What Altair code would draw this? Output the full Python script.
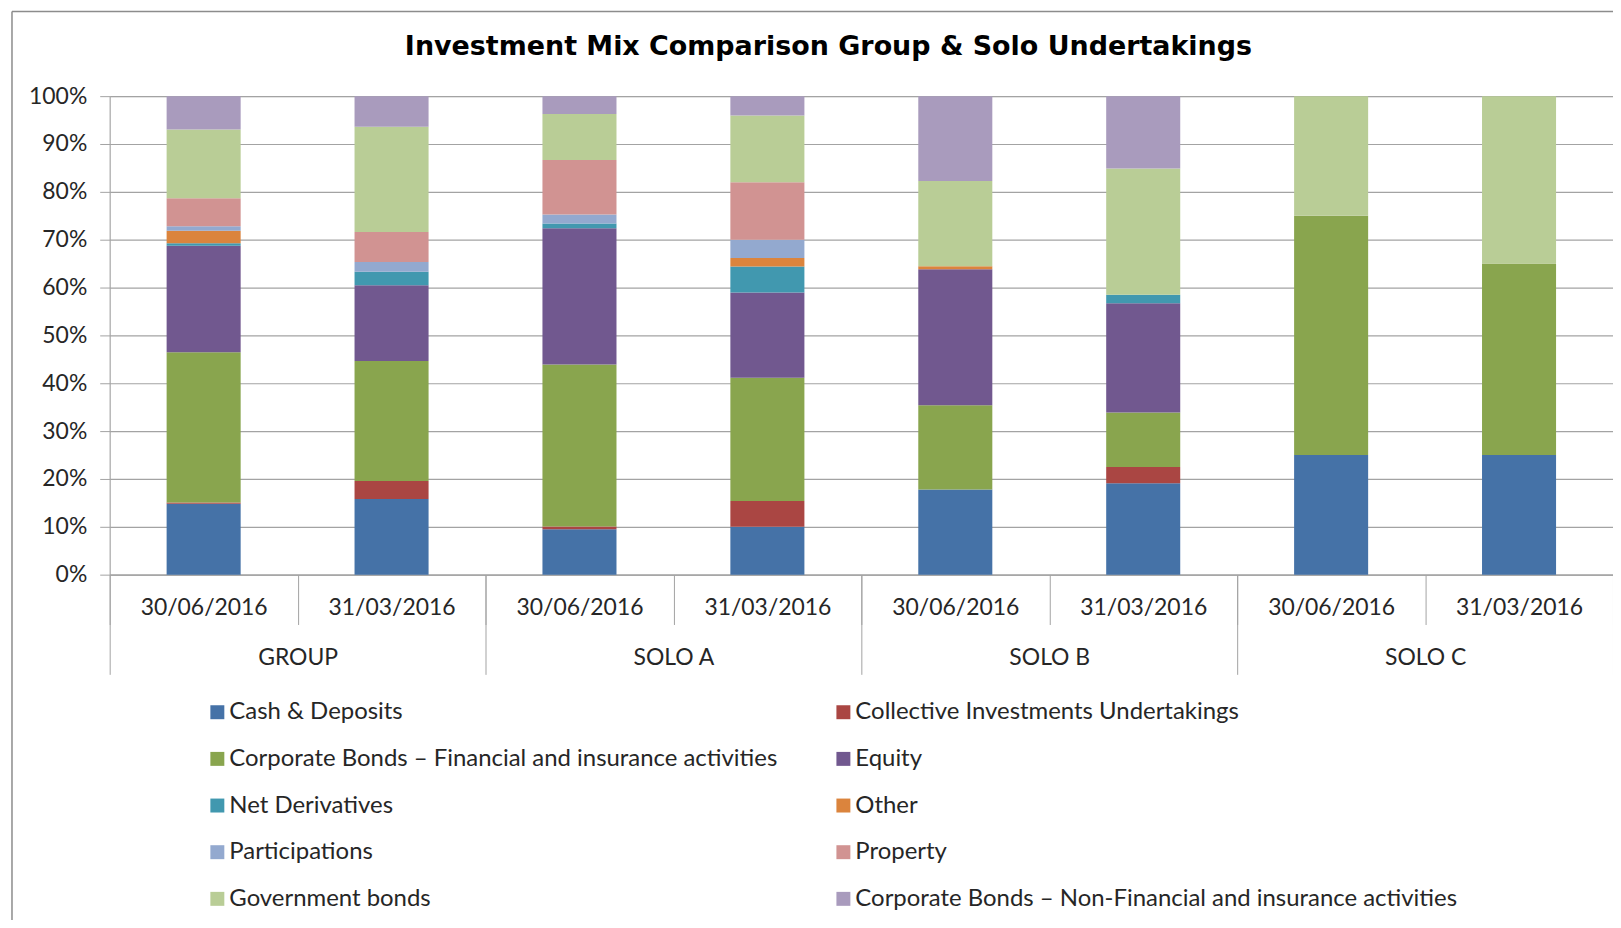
import altair as alt
import pandas as pd

categories = [
    "Cash & Deposits",
    "Collective Investments Undertakings",
    "Corporate Bonds – Financial and insurance activities",
    "Equity",
    "Net Derivatives",
    "Other",
    "Participations",
    "Property",
    "Government bonds",
    "Corporate Bonds – Non-Financial and insurance activities",
]
colors = ["#4572A7", "#AA4643", "#89A54E", "#71588F", "#4198AF",
          "#DB843D", "#93A9CF", "#D19392", "#B9CD96", "#A99BBD"]

groups = ["GROUP", "GROUP", "SOLO A", "SOLO A", "SOLO B", "SOLO B", "SOLO C", "SOLO C"]
dates = ["30/06/2016", "31/03/2016"] * 4

cash = [14.8, 15.8, 9.5, 10.0, 17.8, 19.1, 25.0, 25.0]
collective = [0.3, 3.75, 0.55, 5.4, 0.0, 3.4, 0.0, 0.0]
corp_fin = [31.4, 25.05, 33.9, 25.7, 17.6, 11.4, 50.0, 40.0]
equity = [22.25, 15.8, 28.5, 17.85, 28.4, 22.8, 0.0, 0.0]
net_deriv = [0.55, 2.85, 0.97, 5.4, 0.0, 1.8, 0.0, 0.0]
other = [2.6, 0.0, 0.0, 1.8, 0.6, 0.0, 0.0, 0.0]
participations = [0.95, 2.0, 1.9, 3.8, 0.0, 0.0, 0.0, 0.0]
property_ = [5.85, 6.3, 11.4, 12.0, 0.0, 0.0, 0.0, 0.0]
govt = [14.4, 21.95, 9.6, 13.95, 17.85, 26.4, 25.0, 35.0]
corp_nonfin = [6.95, 6.4, 3.75, 4.03, 17.7, 15.1, 0.0, 0.0]

series = [cash, collective, corp_fin, equity, net_deriv, other,
          participations, property_, govt, corp_nonfin]

bar_keys = [f"{g}|{d}" for g, d in zip(groups, dates)]
rows = []
for ci, (cat, vals) in enumerate(zip(categories, series)):
    for bi, v in enumerate(vals):
        rows.append({"category": cat, "ci": ci, "bar": bar_keys[bi], "value": v})
df = pd.DataFrame(rows)
group_df = pd.DataFrame({"group": list(dict.fromkeys(groups))})

FONT = "Lato"
GRAY = "#a3a3a3"
TXT = "#262626"

bars = alt.Chart(df).mark_bar(width=alt.RelativeBandSize(0.394)).encode(
    x=alt.X(
        "bar:N", sort=bar_keys,
        scale=alt.Scale(paddingInner=0, paddingOuter=0),
        axis=alt.Axis(
            title=None, orient="bottom", labelExpr="split(datum.label, '|')[1]",
            labelAngle=0, tickBand="extent", tickSize=50, tickColor=GRAY, tickWidth=1,
            domainColor=GRAY, domainWidth=1.2, labelPadding=-17, labelBaseline="middle",
            labelFont=FONT, labelFontSize=23, labelColor=TXT, grid=False,
        ),
    ),
    y=alt.Y(
        "value:Q", stack="normalize",
        scale=alt.Scale(domain=[0, 1]),
        axis=alt.Axis(
            title=None, format=".0%", values=[i / 10 for i in range(11)],
            tickSize=10, tickColor=GRAY, domainColor=GRAY, gridColor=GRAY,
            gridWidth=1.2, labelPadding=13, labelFont=FONT, labelFontSize=23,
            labelColor=TXT,
        ),
    ),
    color=alt.Color(
        "category:N",
        scale=alt.Scale(domain=categories, range=colors),
        legend=alt.Legend(
            title=None, orient="none", legendX=96, legendY=606, columns=2,
            direction="horizontal",
            symbolType="square", symbolSize=196, symbolStrokeWidth=0,
            labelFont=FONT, labelFontSize=24, labelColor=TXT, labelLimit=900,
            rowPadding=22.8, columnPadding=53, labelOffset=0, padding=0,
        ),
    ),
    order=alt.Order("ci:Q", sort="ascending"),
)

grp = alt.Chart(group_df).mark_text(opacity=0).encode(
    x=alt.X(
        "group:N", sort=None,
        scale=alt.Scale(type="band", paddingInner=0, paddingOuter=0),
        axis=alt.Axis(
            title=None, orient="bottom", tickBand="extent", tickSize=100,
            tickColor=GRAY, domain=False, labelPadding=-17, labelBaseline="middle",
            labelAngle=0, labelFont=FONT, labelFontSize=23, labelColor=TXT, grid=False,
        ),
    ),
    text="group:N",
)

one = pd.DataFrame({"a": [0]})
frame_top = alt.Chart(one).mark_rule(color="#8c8c8c", strokeWidth=1.5).encode(
    x=alt.value(-98), x2=alt.value(1520), y=alt.value(-85)
)
frame_left = alt.Chart(one).mark_rule(color="#8c8c8c", strokeWidth=1.5).encode(
    x=alt.value(-98), y=alt.value(-85), y2=alt.value(830)
)

chart = alt.layer(frame_top, frame_left, bars, grp).resolve_scale(
    x="independent"
).resolve_axis(x="independent").properties(
    width=1508, height=480,
    padding={"left": 102, "top": 87, "right": 0, "bottom": 345},
    autosize=alt.AutoSizeParams(type="none"),
    title=alt.TitleParams(
        "Investment Mix Comparison Group & Solo Undertakings",
        font="DejaVu Sans", fontSize=27, fontWeight="bold", color="#000000",
        anchor="middle", frame="group", dx=-33, offset=-63, baseline="middle",
    ),
).configure_view(stroke=None).configure(background="white")

chart.save("out.html", embed_options={"renderer": "svg", "actions": False})
